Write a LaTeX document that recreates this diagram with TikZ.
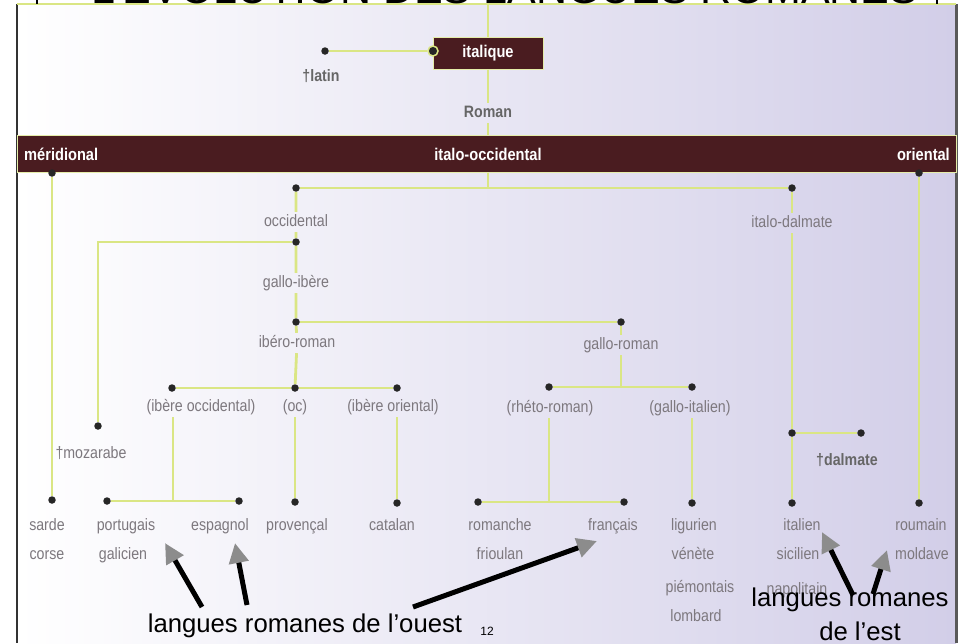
\documentclass[tikz,border=0pt]{standalone}
\usepackage{fontspec}
\setmainfont{Liberation Sans}
\newfontfamily\condfont[FakeStretch=0.86]{Liberation Sans}
\usetikzlibrary{positioning, arrows.meta}

\definecolor{branchc}{RGB}{218,230,132}
\definecolor{barc}{RGB}{74,28,32}
\definecolor{labc}{RGB}{125,120,126}
\definecolor{lavc}{RGB}{210,206,232}

\begin{document}
\begin{tikzpicture}[
            x=1pt, y=-1pt,
            branch/.style={draw=branchc, line width=2.8pt},
            dot/.style={circle, fill=black!85, minimum size=7.5pt, inner sep=0pt},
            ringdot/.style={dot, draw=branchc, line width=1.5pt, minimum size=10pt},
            box/.style={rectangle, fill=barc, draw=branchc!70, line width=1pt, inner sep=0pt,
                text=white, font=\condfont\bfseries\fontsize{17}{19}\selectfont},
            barlab/.style={text=white, inner sep=0pt, font=\condfont\bfseries\fontsize{17}{19}\selectfont},
            lab/.style={text=labc, inner sep=3pt, text height=11pt, text depth=3pt,
                font=\condfont\fontsize{16.5}{18}\selectfont},
            boldlab/.style={lab, text=black!60, font=\condfont\bfseries\fontsize{16.5}{18}\selectfont},
            note/.style={inner sep=0pt, font=\fontsize{25.7}{28}\selectfont},
            pointer/.style={line width=5pt, -{Triangle[length=20pt, width=19pt, color=black!45]}},
        ]
            \useasboundingbox (0,0) rectangle (964,643);

            % Draw the page and the frame of the scan
            \fill[white] (0,0) rectangle (964,643);
            \shade[left color=white, middle color=white!90!lavc, right color=lavc] (17,4) rectangle (956,643);
            \draw[black!80, line width=2pt] (17,4) -- (17,643);
            \draw[black!65, line width=3pt] (956,4) -- (956,643);
            \draw[branchc, line width=1.5pt] (17,4) -- (956,4);
            \draw[line width=1.5pt] (37,0) -- (37,4);
            \draw[line width=1.5pt] (937,0) -- (937,4);
            \begin{scope}
                \clip (0,0) rectangle (964,4);
                \node[anchor=base, inner sep=0pt, font=\fontsize{43}{45}\selectfont] (title) at (505,3.5)
                    {L’ÉVOLUTION DES LANGUES ROMANES};
            \end{scope}

            % Draw the dark bars
            \node[box, minimum width=110pt, minimum height=32pt] (B-ita) at (488,53) {italique};
            \node[box, minimum width=939pt, minimum height=37pt] (bar) at (486.5,153.5) {};
            \node[barlab, anchor=west] (T-mer) at (24,154) {méridional};
            \node[barlab] (T-ioc) at (488,154) {italo-occidental};
            \node[barlab, anchor=east] (T-ori) at (950,154) {oriental};

            % Draw the dots of the tree
            \node[ringdot] (D-ita) at (433,51) {};
            \foreach \name / \x / \y in {lat/325/51, mer/52/173, ori/919/173, occ/296/188, itd/792/188,
                    wes/296/242, moz/98/426, gib/296/322, gro/621/322, ibo/172/388, oc/295/388, ibe/397/388,
                    rhe/549/387, gai/692/387, itj/792/433, dal/861/433, sar/52/500, por/107/501, esp/239/501,
                    pro/295/502, cat/397/503, rom/478/502, fra/624/502, lig/692/503, itl/792/503, rou/919/503}
                \node[dot] (D-\name) at (\x,\y) {};
            \coordinate (top) at (488,4);
            \coordinate (J-io) at (488,188);
            \coordinate (J-ib) at (173,501);
            \coordinate (J-gr) at (621,387);
            \coordinate (J-rh) at (549,502);

            % Connect the dots that have no label between them
            \draw[branch] (D-lat) -- (D-ita);
            \draw[branch] (D-mer) -- (D-sar);
            \draw[branch] (D-ori) -- (D-rou);
            \draw[branch] (D-occ) -- (D-itd);
            \draw[branch] (bar.south -| J-io) -- (J-io);
            \draw[branch] (D-wes) -| (D-moz);
            \draw[branch] (D-gib) -- (D-gro);
            \draw[branch] (D-ibo) -- (D-oc) -- (D-ibe);
            \draw[branch] (D-rhe) -- (D-gai);
            \draw[branch] (D-itj) -- (D-dal);
            \draw[branch] (D-por) -- (D-esp);
            \draw[branch] (D-rom) -- (D-fra);

            % Draw the branch labels
            \node[boldlab] (L-lat) at (321,77) {†latin};
            \node[boldlab] (L-rom) at (488,113) {Roman};
            \node[boldlab] (L-dal) at (847,461) {†dalmate};
            \foreach \name / \x / \y / \txt in {occ/296/222/occidental, itd/792/223/italo-dalmate,
                    gib/296/283/gallo-ibère, ibr/297/343/ibéro-roman, gro/621/345/gallo-roman,
                    ibo/201/407/(ibère occidental), oc/295/407/(oc), ibe/393/407/(ibère oriental),
                    rhe/550/408/(rhéto-roman), gai/690/408/(gallo-italien), moz/91/454/†mozarabe}
                \node[lab] (L-\name) at (\x,\y) {\txt};

            % Draw the languages
            \foreach \name / \x / \y / \txt in {sar/47/526/sarde, cor/47/555/corse, por/126/526/portugais,
                    gal/123/555/galicien, esp/220/526/espagnol, pro/297/526/provençal, cat/392/526/catalan,
                    rom/500/526/romanche, fri/500/555/frioulan, fra/613/526/français, lig/694/526/ligurien,
                    ven/693/555/vénète, pie/700/588/piémontais, lom/696/617/lombard, itl/802/526/italien,
                    sic/798/555/sicilien, nap/797/590/napolitain, rou/921/526/roumain, mol/922/555/moldave}
                \node[lab] (W-\name) at (\x,\y) {\txt};

            % Connect through the labels
            \draw[branch] (top) -- (B-ita) -- (L-rom) -- (L-rom |- bar.north);
            \draw[branch] (D-occ) -- (L-occ) -- (D-wes) -- (L-gib) -- (D-gib) -- (L-ibr) -- (D-oc);
            \draw[branch] (L-oc) -- (D-pro);
            \draw[branch] (J-ib |- L-ibo.south) -- (J-ib);
            \draw[branch] (D-cat |- L-ibe.south) -- (D-cat);
            \draw[branch] (D-gro) -- (L-gro) -- (J-gr);
            \draw[branch] (J-rh |- L-rhe.south) -- (J-rh);
            \draw[branch] (D-lig |- L-gai.south) -- (D-lig);
            \draw[branch] (D-itd) -- (L-itd) -- (D-itj) -- (D-itl);

            % Notes and pointers
            \node[note] (N-ouest) at (305,626) {langues romanes de l’ouest};
            \node[note] (N-est) at (850,600) {langues romanes};
            \node[note] (N-de) at (860,631) {de l’est};
            \node[inner sep=0pt, font=\fontsize{12}{13}\selectfont] (page) at (487,631) {12};
            \coordinate (P1a) at (202,607);
            \coordinate (P1b) at (165,543);
            \coordinate (P2a) at (247,605);
            \coordinate (P2b) at (235,543);
            \coordinate (P3a) at (413,607);
            \coordinate (P3b) at (597,541);
            \coordinate (P4a) at (853,595);
            \coordinate (P4b) at (822,532);
            \coordinate (P5a) at (873,594);
            \coordinate (P5b) at (887,550);
            \foreach \i in {1,...,5}
                \draw[pointer] (P\i a) -- (P\i b);
        \end{tikzpicture}
\end{document}
